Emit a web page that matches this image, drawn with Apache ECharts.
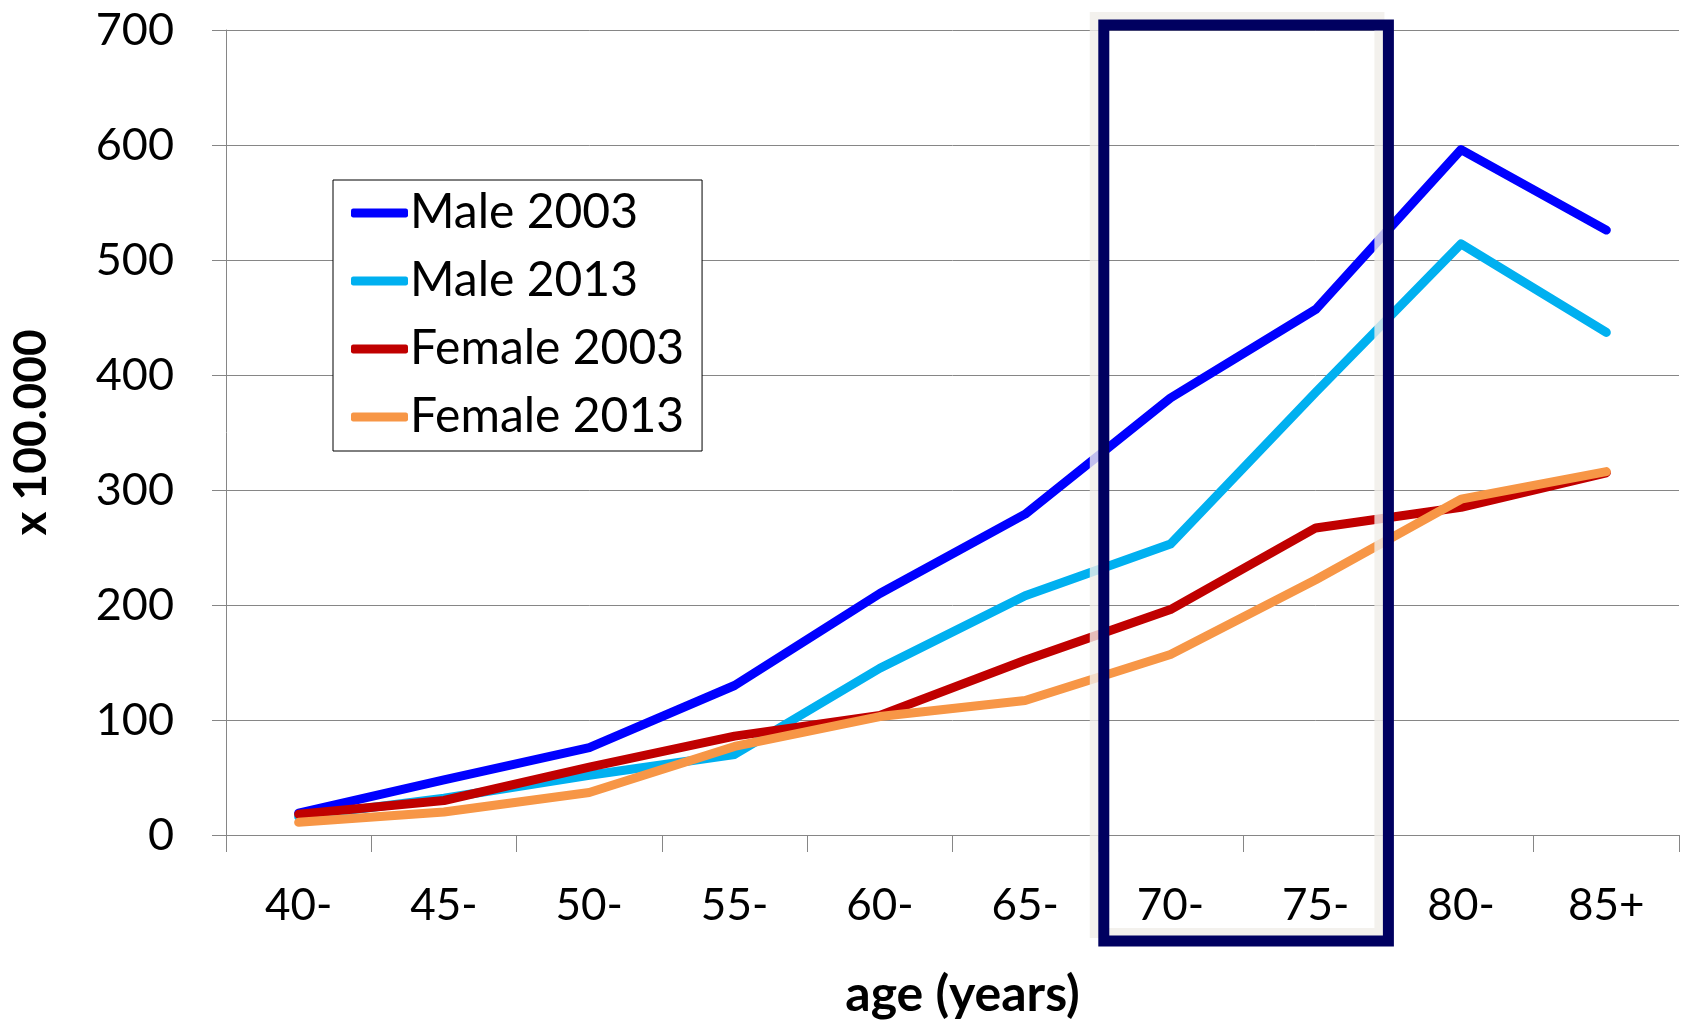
<!DOCTYPE html>
<html>
<head>
<meta charset="utf-8">
<script src="https://cdn.jsdelivr.net/npm/echarts@6/dist/echarts.min.js"></script>
<style>
html,body{margin:0;padding:0;background:#fff;}
#c{width:1684px;height:1025px;}
</style>
</head>
<body>
<div id="c"></div>
<script>
const categories = ['40-','45-','50-','55-','60-','65-','70-','75-','80-','85+'];
const male2003   = [19, 48, 76, 130, 210, 279, 380, 457, 596, 526];
const male2013   = [16, 32, 52, 70, 145, 208, 253, 385, 514, 437];
const female2003 = [18, 30, 59, 86, 104, 152, 196, 267, 285, 315];
const female2013 = [11, 20, 37, 77, 103, 117, 157, 222, 292, 316];
const seriesNames = ['Male 2003','Male 2013','Female 2003','Female 2013'];
const yTicks = {min: 0, max: 700, interval: 100};
const highlightFrom = '70-', highlightTo = '75-';

const colors = ['#0000FF','#00B0F0','#C00000','#F79646'];
const FONT = 'Lato';
const chart = echarts.init(document.getElementById('c'), null, {renderer:'canvas'});

function mk(name, data, color){
  return {
    name, type:'line', data, color,
    symbol:'none', showSymbol:false,
    lineStyle:{width:9, color, cap:'round', join:'round'},
    emphasis:{disabled:true}
  };
}

chart.setOption({
  animation:false,
  backgroundColor:'#fff',
  grid:{left:224, right:5, top:30, bottom:188, containLabel:false},
  legend:{
    orient:'vertical', left:333, top:180,
    backgroundColor:'#fff',
    borderColor:'#000', borderWidth:1,
    padding:[4,18,5,18],
    itemGap:10, itemWidth:57, itemHeight:9,
    icon:'roundRect',
    textStyle:{fontFamily:FONT, fontSize:48, color:'#000', lineHeight:58, padding:[0,0,0,-3]},
    data:seriesNames
  },
  xAxis:{
    type:'category', data:categories, boundaryGap:true,
    axisLine:{lineStyle:{color:'#868686', width:1}},
    axisTick:{show:true, length:17, lineStyle:{color:'#868686'}},
    axisLabel:{fontFamily:FONT, fontSize:44, color:'#000', margin:49},
    name:'age (years)', nameLocation:'middle', nameGap:135,
    nameTextStyle:{fontFamily:FONT, fontSize:50, fontWeight:'bold', color:'#000', padding:[0,0,0,20]}
  },
  yAxis:{
    type:'value', min:yTicks.min, max:yTicks.max, interval:yTicks.interval,
    axisLine:{show:true, lineStyle:{color:'#868686', width:1}},
    axisTick:{show:true, length:14, lineStyle:{color:'#868686'}},
    splitLine:{show:true, lineStyle:{color:'#868686', width:1}},
    axisLabel:{fontFamily:FONT, fontSize:45, color:'#000', margin:52},
    name:'x 100.000', nameLocation:'middle', nameGap:172, nameRotate:90,
    nameTextStyle:{fontFamily:FONT, fontSize:46, fontWeight:'bold', color:'#000'}
  },
  series:[
    mk(seriesNames[0], male2003, colors[0]),
    mk(seriesNames[1], male2013, colors[1]),
    mk(seriesNames[2], female2003, colors[2]),
    mk(seriesNames[3], female2013, colors[3])
  ]
});

// highlight box around the 70- and 75- category bands
(function(){
  const xa = chart.convertToPixel({xAxisIndex:0}, highlightFrom);
  const xb = chart.convertToPixel({xAxisIndex:0}, highlightTo);
  const bw = xb - xa;
  const bx0 = xa - bw/2 + 6, bx1 = xb + bw/2;
  const by0 = chart.convertToPixel({yAxisIndex:0}, yTicks.max) - 5;
  const by1 = chart.convertToPixel({yAxisIndex:0}, yTicks.min) + 106;
  chart.setOption({
    graphic:[
      {type:'rect', z:100, silent:true,
       shape:{x:bx0-9, y:by0-8, width:bx1-bx0, height:by1-by0},
       style:{fill:'none', stroke:'rgba(240,238,232,0.8)', lineWidth:10}},
      {type:'rect', z:101, silent:true,
       shape:{x:bx0, y:by0, width:bx1-bx0, height:by1-by0},
       style:{fill:'none', stroke:'#000060', lineWidth:11}}
    ]
  });
})();
</script>
</body>
</html>
